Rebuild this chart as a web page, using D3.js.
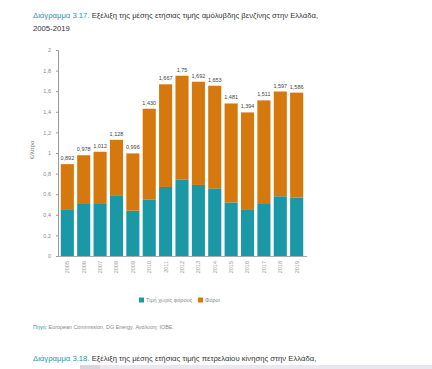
<!DOCTYPE html>
<html>
<head>
<meta charset="utf-8">
<script src="https://cdn.jsdelivr.net/npm/d3@7"></script>
<style>
    body { margin: 0; background: #fff; }
    svg text { font-family: "Liberation Sans Narrow", "Liberation Sans", sans-serif; }
</style>
</head>
<body>
<div id="chart"></div>
<script>
const width = 432;
const height = 369;

const years = ["2005", "2006", "2007", "2008", "2009", "2010", "2011", "2012",
    "2013", "2014", "2015", "2016", "2017", "2018", "2019"];
// price without taxes (teal) and taxes (orange), €/litre
const preTax = [0.447, 0.505, 0.505, 0.59, 0.44, 0.55, 0.67, 0.74, 0.69, 0.657, 0.52, 0.447, 0.505, 0.58, 0.566];
const taxes = [0.445, 0.473, 0.507, 0.538, 0.556, 0.88, 0.997, 1.01, 1.002, 0.996, 0.961, 0.947, 1.006, 1.017, 1.02];
const totalLabels = ["0,892", "0,978", "1,012", "1,128", "0,996", "1,430", "1,667", "1,75",
    "1,692", "1,653", "1,481", "1,394", "1,511", "1,597", "1,586"];
const yTicks = [0, 0.2, 0.4, 0.6, 0.8, 1, 1.2, 1.4, 1.6, 1.8, 2];
const seriesNames = ["Τιμή χωρίς φόρους", "Φόροι"];
const colors = ["#1a98a6", "#d5790f"];

const svg = d3.select("#chart").append("svg")
    .attr("width", width)
    .attr("height", height);

// title
const title = svg.append("text").attr("x", 33).attr("y", 18).attr("font-size", 7.7);
title.append("tspan").attr("fill", "#1a98a6").text("Διάγραμμα 3.17.");
title.append("tspan").attr("fill", "#333").text(" Εξέλιξη της μέσης ετήσιας τιμής αμόλυβδης βενζίνης στην Ελλάδα,");
svg.append("text").attr("x", 33).attr("y", 31).attr("font-size", 7.7)
    .attr("fill", "#333").text("2005-2019");

const x = d3.scaleBand()
    .domain(years)
    .range([57.5, 306.5])
    .padding(0.2);

const y = d3.scaleLinear()
    .domain([0, 2])
    .range([256, 50]);

// y axis
const yAxis = svg.append("g")
    .attr("transform", "translate(58,0)")
    .call(d3.axisLeft(y).tickValues(yTicks).tickSize(2)
        .tickFormat(d => d3.format("~g")(d).replace(".", ",")));
yAxis.select(".domain").attr("stroke", "#999");
yAxis.selectAll(".tick line").attr("stroke", "#999");
yAxis.selectAll(".tick text").attr("fill", "#888").attr("font-size", 5.5).attr("x", -7);

svg.append("text")
    .attr("transform", "translate(34,150) rotate(-90)")
    .attr("text-anchor", "middle")
    .attr("font-size", 6)
    .attr("fill", "#777")
    .text("€/λίτρο");

// x axis
const xAxis = svg.append("g")
    .attr("transform", "translate(0,256)")
    .call(d3.axisBottom(x).tickSize(0));
xAxis.select(".domain").attr("stroke", "#aaa");
xAxis.selectAll(".tick text")
    .attr("fill", "#999")
    .attr("font-size", 5.5)
    .attr("text-anchor", "end")
    .attr("dy", "0.35em")
    .attr("transform", "translate(0,5) rotate(-90)")
    .attr("x", 0)
    .attr("y", 0);

// stacked bars
const rows = years.map((yr, i) => ({ year: yr, pre: preTax[i], tax: taxes[i], label: totalLabels[i] }));

svg.append("g").selectAll("rect")
    .data(rows)
    .enter()
    .append("rect")
    .attr("x", d => x(d.year))
    .attr("y", d => y(d.pre))
    .attr("width", x.bandwidth())
    .attr("height", d => y(0) - y(d.pre))
    .attr("fill", colors[0]);

svg.append("g").selectAll("rect")
    .data(rows)
    .enter()
    .append("rect")
    .attr("x", d => x(d.year))
    .attr("y", d => y(d.pre + d.tax))
    .attr("width", x.bandwidth())
    .attr("height", d => y(d.pre) - y(d.pre + d.tax))
    .attr("fill", colors[1]);

svg.append("g").selectAll("text")
    .data(rows)
    .enter()
    .append("text")
    .attr("x", d => x(d.year) + x.bandwidth() / 2)
    .attr("y", d => y(d.pre + d.tax) - 4)
    .attr("text-anchor", "middle")
    .attr("font-size", 5.5)
    .attr("fill", "#444")
    .text(d => d.label);

// legend
const legend = svg.append("g").attr("transform", "translate(139,300)");
const legendX = [0, 59];
seriesNames.forEach((name, i) => {
    legend.append("rect")
        .attr("x", legendX[i]).attr("y", -2.5)
        .attr("width", 5).attr("height", 5)
        .attr("fill", colors[i]);
    legend.append("text")
        .attr("x", legendX[i] + 7).attr("y", 2)
        .attr("font-size", 5.5)
        .attr("fill", "#888")
        .text(name);
});

// source
const src = svg.append("text").attr("x", 33).attr("y", 329).attr("font-size", 5.4).attr("fill", "#888");
src.append("tspan").attr("fill", "#3a8f9a").text("Πηγή:");
src.append("tspan").text(" European Commission, DG Energy. Ανάλυση: ΙΟΒΕ.");

// next chart title (cut off)
const title2 = svg.append("text").attr("x", 33).attr("y", 361).attr("font-size", 7.7);
title2.append("tspan").attr("fill", "#1a98a6").text("Διάγραμμα 3.18.");
title2.append("tspan").attr("fill", "#333").text(" Εξέλιξη της μέσης ετήσιας τιμής πετρελαίου κίνησης στην Ελλάδα,");

svg.append("rect").attr("x", 80).attr("y", 365).attr("width", 352).attr("height", 4).attr("fill", "#ebe7ee");
svg.append("rect").attr("x", 80).attr("y", 365).attr("width", 20).attr("height", 4).attr("fill", "#d8d6dc");
</script>
</body>
</html>
